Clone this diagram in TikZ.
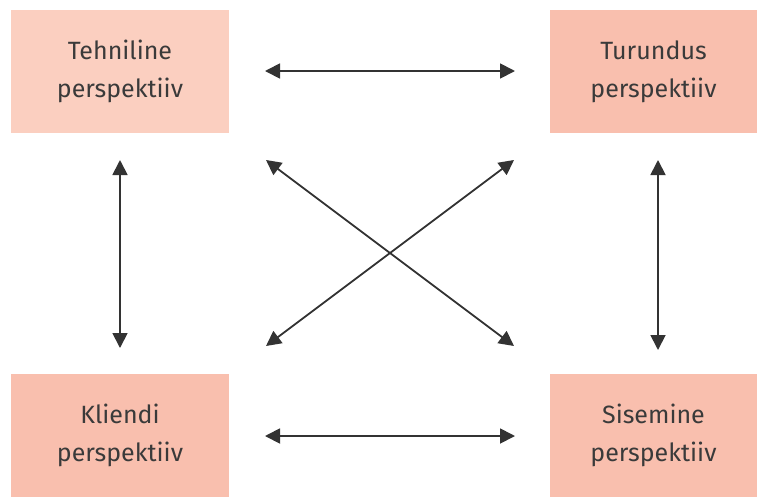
\documentclass[tikz,border=0pt]{standalone}
\usepackage{fontspec}
\setmainfont{Fira Sans}
\usetikzlibrary{arrows.meta}
\definecolor{boxA}{HTML}{FBCFC0}
\definecolor{boxB}{HTML}{F9BFAE}
\definecolor{txt}{HTML}{3A3A3A}
\definecolor{arr}{HTML}{333333}
\tikzset{
  pbox/.style={minimum height=123pt, inner sep=0pt, align=center,
    font=\fontsize{25}{38}\selectfont, text=txt},
  lbox/.style={pbox, minimum width=218pt},
  rbox/.style={pbox, minimum width=207pt},
  biarrow/.style={draw=arr, line width=1.8pt, {Triangle[length=15pt,width=15pt]}-{Triangle[length=15pt,width=15pt]}}
}
\begin{document}
\begin{tikzpicture}[x=1pt,y=-1pt]
\useasboundingbox (0,0) rectangle (757,496);
\node[lbox, fill=boxA] (tl) at (120,71.5) {Tehniline\\perspektiiv};
\node[rbox, fill=boxB] (tr) at (653.5,71.5) {Turundus\\perspektiiv};
\node[lbox, fill=boxB] (bl) at (120,435.5) {Kliendi\\perspektiiv};
\node[rbox, fill=boxB] (br) at (653.5,435.5) {Sisemine\\perspektiiv};
\coordinate (a1) at (265,71);
\coordinate (a2) at (515,71);
\coordinate (b1) at (265,436);
\coordinate (b2) at (515,436);
\coordinate (c1) at (120,160);
\coordinate (c2) at (120,348);
\coordinate (d1) at (658,160);
\coordinate (d2) at (658,350);
\coordinate (e1) at (266,160);
\coordinate (e2) at (514,346);
\coordinate (f1) at (514,160);
\coordinate (f2) at (266,346);
\draw[biarrow] (a1) -- (a2);
\draw[biarrow] (b1) -- (b2);
\draw[biarrow] (c1) -- (c2);
\draw[biarrow] (d1) -- (d2);
\draw[biarrow] (e1) -- (e2);
\draw[biarrow] (f1) -- (f2);
\end{tikzpicture}
\end{document}
